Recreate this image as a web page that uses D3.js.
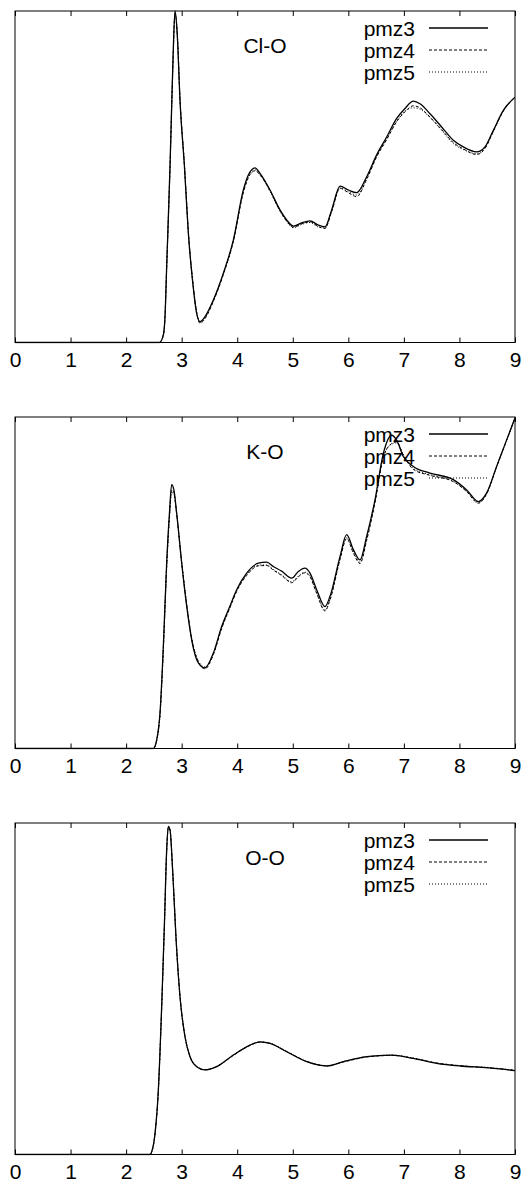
<!DOCTYPE html>
<html>
<head>
<meta charset="utf-8">
<script src="https://cdn.jsdelivr.net/npm/d3@7"></script>
<style>
  html, body { margin: 0; padding: 0; background: #fff; }
  svg { display: block; }
  text { font-family: "Liberation Sans", Arial, Helvetica, sans-serif; fill: #000; }
</style>
</head>
<body>
<svg id="chart" width="523" height="1185"></svg>
<script>
// Radial distribution curves for three pair types, three runs each (normalised g(r)).
const seriesNames = ["pmz3", "pmz4", "pmz5"];
const panelLabels = ["Cl-O", "K-O", "O-O"];
const xTicks = [0, 1, 2, 3, 4, 5, 6, 7, 8, 9];

// Cl-O
const rClO = [0, 2.60, 2.67, 2.70, 2.73, 2.79, 2.84, 2.88, 2.92, 2.97, 3.05, 3.12, 3.20, 3.27, 3.33, 3.42, 3.57, 3.75, 3.93, 4.11, 4.20, 4.32, 4.41, 4.59, 4.77, 4.89, 5.01, 5.16, 5.31, 5.46, 5.58, 5.70, 5.85, 6.00, 6.15, 6.33, 6.51, 6.69, 6.87, 7.02, 7.17, 7.29, 7.47, 7.68, 7.89, 8.07, 8.31, 8.46, 8.61, 8.79, 9.00];
const clO_pmz3 = [0, 0, 0.023, 0.078, 0.229, 0.530, 0.832, 1.000, 0.930, 0.730, 0.530, 0.330, 0.180, 0.088, 0.063, 0.078, 0.128, 0.209, 0.309, 0.460, 0.505, 0.527, 0.510, 0.460, 0.400, 0.370, 0.351, 0.361, 0.367, 0.354, 0.349, 0.400, 0.472, 0.460, 0.452, 0.500, 0.566, 0.620, 0.676, 0.706, 0.728, 0.720, 0.690, 0.650, 0.610, 0.590, 0.575, 0.590, 0.640, 0.700, 0.740];
const clO_pmz4 = [0, 0, 0.022, 0.076, 0.225, 0.525, 0.825, 0.995, 0.935, 0.735, 0.535, 0.335, 0.182, 0.090, 0.058, 0.072, 0.124, 0.205, 0.305, 0.452, 0.497, 0.518, 0.505, 0.458, 0.397, 0.366, 0.348, 0.358, 0.364, 0.350, 0.344, 0.395, 0.465, 0.452, 0.440, 0.492, 0.560, 0.612, 0.666, 0.696, 0.714, 0.708, 0.680, 0.642, 0.603, 0.584, 0.567, 0.585, 0.637, 0.698, 0.740];
const clO_pmz5 = [0, 0, 0.021, 0.075, 0.224, 0.522, 0.822, 0.992, 0.936, 0.738, 0.538, 0.338, 0.185, 0.092, 0.060, 0.074, 0.126, 0.206, 0.306, 0.455, 0.500, 0.521, 0.507, 0.456, 0.396, 0.365, 0.346, 0.356, 0.362, 0.348, 0.346, 0.397, 0.467, 0.455, 0.445, 0.495, 0.562, 0.614, 0.668, 0.698, 0.708, 0.704, 0.678, 0.640, 0.600, 0.582, 0.570, 0.588, 0.638, 0.699, 0.740];

// K-O
const rKO = [0, 2.49, 2.55, 2.61, 2.67, 2.73, 2.78, 2.82, 2.86, 2.91, 3.00, 3.09, 3.18, 3.30, 3.42, 3.57, 3.72, 3.87, 3.99, 4.17, 4.38, 4.53, 4.65, 4.80, 4.98, 5.10, 5.22, 5.31, 5.43, 5.58, 5.67, 5.85, 5.97, 6.09, 6.21, 6.33, 6.48, 6.63, 6.78, 6.87, 6.99, 7.17, 7.47, 7.89, 8.13, 8.34, 8.49, 8.67, 8.85, 9.00];
const kO_pmz3 = [0, 0, 0.026, 0.107, 0.308, 0.560, 0.710, 0.796, 0.780, 0.710, 0.560, 0.430, 0.328, 0.258, 0.243, 0.288, 0.368, 0.430, 0.479, 0.529, 0.559, 0.562, 0.549, 0.535, 0.514, 0.534, 0.544, 0.529, 0.479, 0.428, 0.459, 0.579, 0.645, 0.600, 0.569, 0.640, 0.750, 0.890, 0.945, 0.930, 0.881, 0.851, 0.831, 0.811, 0.780, 0.745, 0.771, 0.851, 0.931, 0.997];
const kO_pmz4 = [0, 0, 0.024, 0.103, 0.300, 0.550, 0.700, 0.780, 0.772, 0.708, 0.562, 0.434, 0.332, 0.262, 0.240, 0.283, 0.362, 0.425, 0.474, 0.522, 0.551, 0.552, 0.538, 0.522, 0.500, 0.518, 0.530, 0.518, 0.468, 0.415, 0.448, 0.570, 0.633, 0.590, 0.558, 0.628, 0.742, 0.878, 0.920, 0.925, 0.885, 0.842, 0.824, 0.805, 0.775, 0.740, 0.768, 0.850, 0.930, 0.997];
const kO_pmz5 = [0, 0, 0.023, 0.100, 0.296, 0.545, 0.695, 0.772, 0.768, 0.706, 0.563, 0.436, 0.334, 0.264, 0.246, 0.285, 0.364, 0.427, 0.476, 0.525, 0.553, 0.554, 0.540, 0.524, 0.503, 0.520, 0.532, 0.520, 0.470, 0.418, 0.450, 0.572, 0.636, 0.594, 0.562, 0.632, 0.745, 0.880, 0.918, 0.922, 0.888, 0.845, 0.826, 0.806, 0.776, 0.742, 0.769, 0.851, 0.931, 0.997];

// O-O
const rOO = [0, 2.43, 2.46, 2.52, 2.58, 2.64, 2.69, 2.73, 2.76, 2.79, 2.84, 2.90, 2.97, 3.06, 3.15, 3.27, 3.42, 3.63, 3.93, 4.23, 4.41, 4.59, 4.89, 5.25, 5.61, 5.91, 6.33, 6.78, 7.17, 7.59, 8.01, 8.49, 9.00];
const oO_pmz3 = [0, 0, 0.008, 0.063, 0.194, 0.446, 0.698, 0.919, 0.990, 0.980, 0.849, 0.647, 0.476, 0.355, 0.295, 0.265, 0.255, 0.265, 0.300, 0.330, 0.340, 0.335, 0.310, 0.280, 0.267, 0.280, 0.295, 0.300, 0.290, 0.275, 0.267, 0.262, 0.253];
const oO_pmz4 = [0, 0, 0.008, 0.062, 0.192, 0.443, 0.695, 0.915, 0.987, 0.978, 0.850, 0.649, 0.478, 0.356, 0.296, 0.265, 0.256, 0.265, 0.299, 0.329, 0.339, 0.335, 0.311, 0.281, 0.268, 0.279, 0.294, 0.299, 0.290, 0.276, 0.268, 0.262, 0.254];
const oO_pmz5 = [0, 0, 0.007, 0.061, 0.191, 0.441, 0.693, 0.913, 0.985, 0.977, 0.851, 0.650, 0.479, 0.357, 0.297, 0.266, 0.256, 0.266, 0.300, 0.330, 0.340, 0.336, 0.311, 0.281, 0.268, 0.280, 0.295, 0.300, 0.291, 0.276, 0.268, 0.263, 0.254];

const panels = [
  { label: panelLabels[0], r: rClO, series: [clO_pmz3, clO_pmz4, clO_pmz5] },
  { label: panelLabels[1], r: rKO,  series: [kO_pmz3,  kO_pmz4,  kO_pmz5] },
  { label: panelLabels[2], r: rOO,  series: [oO_pmz3,  oO_pmz4,  oO_pmz5] }
];

const svg = d3.select("#chart");
const left = 15, right = 515, plotH = 331.5;
const tops = [11, 417, 823];
const fontSize = 21;
const dashes = [null, "3,2", "1,2"];

const x = d3.scaleLinear().domain([0, 9]).range([left, right]);

panels.forEach((p, i) => {
  const top = tops[i];
  const y = d3.scaleLinear().domain([0, 1]).range([top + plotH, top]);
  const g = svg.append("g");

  const clipId = "clip" + i;
  g.append("clipPath").attr("id", clipId)
    .append("rect").attr("x", left).attr("y", top - 1).attr("width", right - left).attr("height", plotH + 2);

  // bottom axis with inward ticks and labels
  const bottom = g.append("g")
    .attr("transform", `translate(0,${top + plotH})`)
    .call(d3.axisBottom(x).tickValues(xTicks).tickFormat(d3.format("d"))
      .tickSizeInner(-5).tickSizeOuter(0).tickPadding(10));
  bottom.select(".domain").remove();
  bottom.selectAll("line").attr("stroke", "#000");
  bottom.selectAll("text").attr("font-size", fontSize)
    .attr("font-family", "'Liberation Sans', Arial, Helvetica, sans-serif");

  // top axis: inward ticks only
  const topAxis = g.append("g")
    .attr("transform", `translate(0,${top})`)
    .call(d3.axisTop(x).tickValues(xTicks).tickFormat("").tickSizeInner(-5).tickSizeOuter(0));
  topAxis.select(".domain").remove();
  topAxis.selectAll("line").attr("stroke", "#000");

  // curves
  const line = d3.line()
    .x((d, k) => x(p.r[k]))
    .y(d => y(d))
    .curve(d3.curveMonotoneX);

  [2, 1, 0].forEach(s => {
    g.append("path")
      .datum(p.series[s])
      .attr("clip-path", `url(#${clipId})`)
      .attr("fill", "none")
      .attr("stroke", "#000")
      .attr("stroke-width", s === 0 ? 1.3 : 1)
      .attr("stroke-dasharray", dashes[s])
      .attr("d", line);
  });

  // frame
  g.append("rect")
    .attr("x", left).attr("y", top)
    .attr("width", right - left).attr("height", plotH)
    .attr("fill", "none").attr("stroke", "#000").attr("stroke-width", 1);

  // panel label
  g.append("text")
    .attr("x", 265).attr("y", top + 41.5)
    .attr("text-anchor", "middle")
    .attr("font-size", fontSize)
    .text(p.label);

  // legend
  seriesNames.forEach((name, s) => {
    const cy = top + 17 + s * 22;
    g.append("text")
      .attr("x", 415).attr("y", cy + 7.5)
      .attr("text-anchor", "end")
      .attr("font-size", fontSize)
      .text(name);
    g.append("line")
      .attr("x1", 429).attr("x2", 488)
      .attr("y1", cy).attr("y2", cy)
      .attr("stroke", "#000")
      .attr("stroke-width", s === 0 ? 1.3 : 1)
      .attr("stroke-dasharray", dashes[s]);
  });
});
</script>
</body>
</html>
